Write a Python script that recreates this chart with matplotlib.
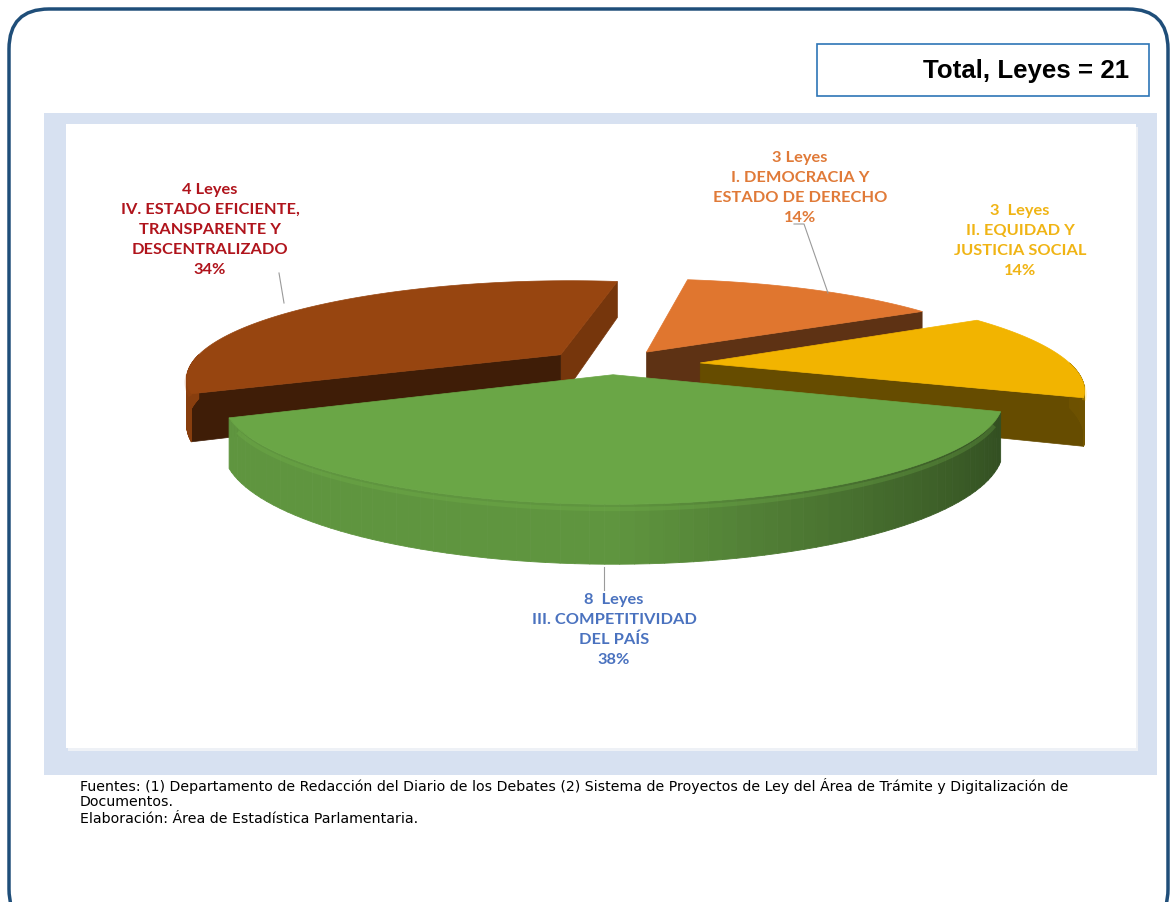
import numpy as np
import matplotlib
matplotlib.use('Agg')
from matplotlib import pyplot as plt
from matplotlib.patches import FancyBboxPatch, Rectangle, Polygon
from matplotlib.collections import PolyCollection
from matplotlib.colors import to_rgb

# Data
ejes = ['II. EQUIDAD Y\nJUSTICIA SOCIAL', 'I. DEMOCRACIA Y\nESTADO DE DERECHO',
        'IV. ESTADO EFICIENTE,\nTRANSPARENTE Y\nDESCENTRALIZADO', 'III. COMPETITIVIDAD\nDEL PAÍS']
leyes = [3, 3, 4, 8]
leyes_txt = ['3  Leyes', '3 Leyes', '4 Leyes', '8  Leyes']
porcentaje = [14, 14, 34, 38]
total_leyes = 21

# Styles
top_colors = ['#f2b400', '#e0762f', '#974510', '#6aa646']
label_colors = ['#f0b414', '#e07a38', '#b0141c', '#4a72bf']
explode = [0.24, 0.17, 0.18, 0.10]
start_angle = -20.0

# pie geometry, in pixel units
cx, cy = 612, 365
rx, ry = 371, 95
depth = 45
persp = 0.227

fig = plt.figure(figsize=(11.74, 9.02), dpi=100)
ax = fig.add_axes([0, 0, 1, 1])
ax.set_xlim(0, 1174)
ax.set_ylim(902, 0)
ax.axis('off')

# frame and panels
ax.add_patch(FancyBboxPatch((9, 9), 1159, 920, boxstyle='round,pad=0,rounding_size=40',
                            fc='white', ec='#1f4e79', lw=2.5, zorder=0))
ax.add_patch(Rectangle((44, 113), 1113, 662, fc='#d7e1f1', ec='none', zorder=1))
ax.add_patch(Rectangle((68, 127), 1070, 624, fc='#eef1f6', ec='none', zorder=1))
ax.add_patch(Rectangle((66, 124), 1070, 624, fc='white', ec='none', zorder=1))
ax.add_patch(Rectangle((817, 44), 332, 52, fc='white', ec='#2e75b6', lw=1.2, zorder=2))
ax.text(1129, 71, 'Total, Leyes = %d' % total_leyes, ha='right', va='center',
        fontsize=18.6, fontweight='bold', family='Liberation Sans',
        color='black', zorder=3)


def proj(u, v, drop=0.0):
    k = 1.0 / (1.0 + persp * v)
    return cx + rx * u * k, cy - ry * v * k + depth * k * drop


def shade(c, f):
    r, g, b = to_rgb(c)
    return (min(r * f, 1), min(g * f, 1), min(b * f, 1))


def front_parts(a1, a2):
    parts = []
    for lo, hi in [(-180, 0), (180, 360), (540, 720)]:
        s, e = max(a1, lo), min(a2, hi)
        if e > s:
            parts.append((s, e))
    return parts


fr = np.array(porcentaje, dtype=float) / sum(porcentaje)
bounds = start_angle + np.concatenate([[0], np.cumsum(fr) * 360])
mids = (bounds[:-1] + bounds[1:]) / 2

# paint back slices first
order = np.argsort(-np.sin(np.radians(mids)))
z = 5
for i in order:
    a1, a2 = bounds[i], bounds[i + 1]
    m = np.radians(mids[i])
    ou, ov = explode[i] * np.cos(m), explode[i] * np.sin(m)
    col = top_colors[i]

    # flat radial faces
    for a, n in [(a1, a1 - 90), (a2, a2 + 90)]:
        sn = np.sin(np.radians(n))
        if sn < 0:
            t = np.radians(a)
            pts = [proj(ou, ov), proj(ou + np.cos(t), ov + np.sin(t)),
                   proj(ou + np.cos(t), ov + np.sin(t), 1), proj(ou, ov, 1)]
            f = 0.42 if sn < -0.5 else 0.78
            ax.add_patch(Polygon(pts, closed=True, fc=shade(col, f), ec=shade(col, f),
                                 lw=0.5, zorder=z))
            z += 1

    # curved outer wall
    for s, e in front_parts(a1, a2):
        ts = np.radians(np.linspace(s, e, 80))
        polys, cols = [], []
        for t0, t1 in zip(ts[:-1], ts[1:]):
            p = [proj(ou + np.cos(t0), ov + np.sin(t0)), proj(ou + np.cos(t1), ov + np.sin(t1)),
                 proj(ou + np.cos(t1), ov + np.sin(t1), 1), proj(ou + np.cos(t0), ov + np.sin(t0), 1)]
            tm = (t0 + t1) / 2
            f = 0.9 - 0.45 * max(0.0, np.cos(tm))
            polys.append(p)
            cols.append(shade(col, f))
        ax.add_collection(PolyCollection(polys, facecolors=cols, edgecolors=cols,
                                         linewidths=0.6, zorder=z))
        z += 1
        # soft bevel just under the top edge
        rim = [proj(ou + np.cos(t), ov + np.sin(t), 0.08) for t in ts[3:-3]]
        ax.plot([p[0] for p in rim], [p[1] for p in rim], color=shade(col, 1.12),
                lw=3, alpha=0.25, solid_capstyle='butt', zorder=z)
        z += 1

    # top face
    ts = np.radians(np.linspace(a1, a2, 150))
    top = [proj(ou, ov)] + [proj(ou + np.cos(t), ov + np.sin(t)) for t in ts]
    ax.add_patch(Polygon(top, closed=True, fc=col, ec=col, lw=0.5, zorder=z))
    z += 1

# labels, one text per line, 20 px apart
label_pos = [(1020, 211), (800, 158), (210, 190), (614, 600)]
for i in range(len(leyes)):
    lines = [leyes_txt[i]] + ejes[i].split('\n') + ['%d%%' % porcentaje[i]]
    for j, s in enumerate(lines):
        ax.text(label_pos[i][0], label_pos[i][1] + 20 * j, s, ha='center', va='center',
                fontsize=11.8, fontweight='bold', family='Lato', color=label_colors[i],
                zorder=60)

# leader lines
ax.plot([279, 284], [273, 303], color='#9a9a9a', lw=0.8, zorder=60)
ax.plot([794, 804, 828], [224, 224, 293], color='#9a9a9a', lw=0.8, zorder=60)
ax.plot([604, 604], [567, 590], color='#9a9a9a', lw=0.8, zorder=60)

# footnote
foot = ['Fuentes: (1) Departamento de Redacción del Diario de los Debates (2) Sistema de Proyectos de Ley '
        'del Área de Trámite y Digitalización de',
        'Documentos.',
        'Elaboración: Área de Estadística Parlamentaria.']
for j, line in enumerate(foot):
    ax.text(80, 786 + 16.5 * j, line, ha='left', va='center', fontsize=10.2, family='DejaVu Sans',
            color='black', zorder=60)

fig.savefig('out.png', dpi=100)
